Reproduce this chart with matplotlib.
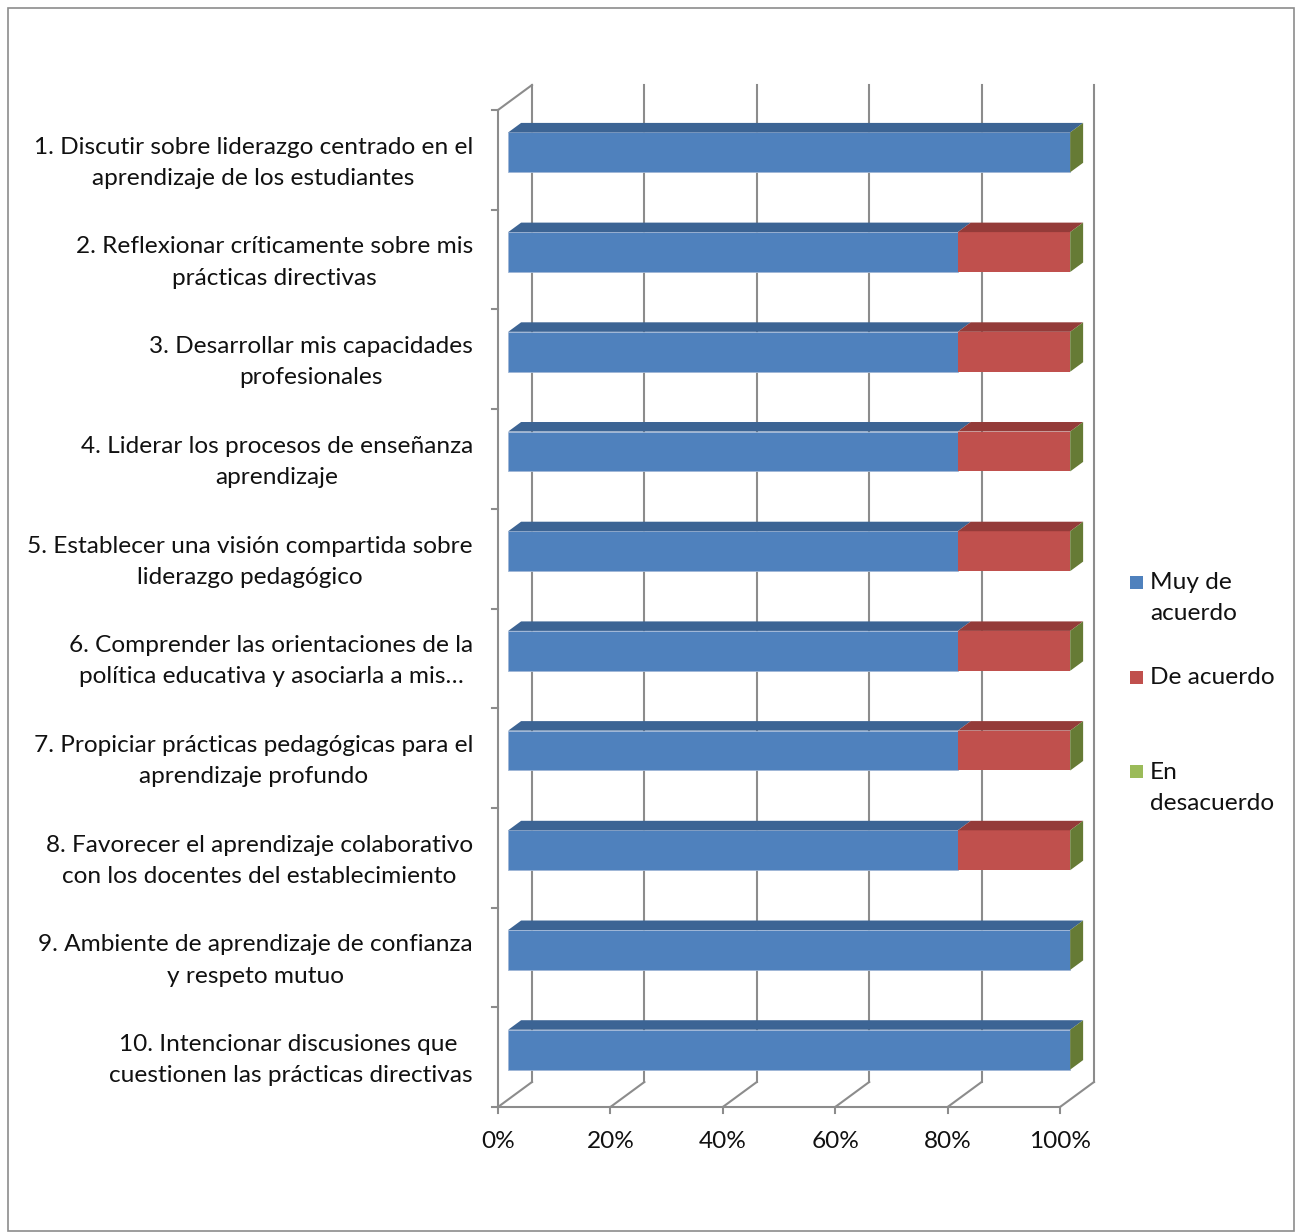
import numpy as np
import matplotlib.pyplot as plt
from matplotlib.patches import Polygon, Rectangle

plt.rcParams['font.family'] = ['Lato', 'DejaVu Sans']

# data
categories = [
    "1. Discutir sobre liderazgo centrado en el\naprendizaje de los estudiantes",
    "2. Reflexionar críticamente sobre mis\nprácticas directivas",
    "3. Desarrollar mis capacidades\nprofesionales",
    "4. Liderar los procesos de enseñanza\naprendizaje",
    "5. Establecer una visión compartida sobre\nliderazgo pedagógico",
    "6. Comprender las orientaciones de la\npolítica educativa y asociarla a mis…",
    "7. Propiciar prácticas pedagógicas para el\naprendizaje profundo",
    "8. Favorecer el aprendizaje colaborativo\ncon los docentes del establecimiento",
    "9. Ambiente de aprendizaje de confianza\ny respeto mutuo",
    "10. Intencionar discusiones que \ncuestionen las prácticas directivas",
]
muy_de_acuerdo = [100, 80, 80, 80, 80, 80, 80, 80, 100, 100]
de_acuerdo = [0, 20, 20, 20, 20, 20, 20, 20, 0, 0]
en_desacuerdo = [0, 0, 0, 0, 0, 0, 0, 0, 0, 0]
series_names = ["Muy de\nacuerdo", "De acuerdo", "En\ndesacuerdo"]
xticks = [0, 20, 40, 60, 80, 100]
xtick_labels = ["0%", "20%", "40%", "60%", "80%", "100%"]

front_cols = ['#4F81BD', '#C0504D', '#9BBB59']
top_cols = ['#3C6494', '#943B39', '#738F3F']
side_col = '#667B35'
grid_col = '#8C8C8C'
FS = 17.6

# geometry (pixel scale -> data units)
W, H = 1296, 1232
PX_X = 5.62     # px per percent
PX_Y = 99.7     # px per category
X0_PX, Y0_PX = 498, 1107
DX, DY = 34 / PX_X, 25 / PX_Y     # floor depth
T0, T1 = 0.30, 0.68               # bar depth span
BH = 0.40

fig = plt.figure(figsize=(W / 100, H / 100), dpi=100)
ax = fig.add_axes([0, 0, 1, 1])
ax.set_xlim(-X0_PX / PX_X, (W - X0_PX) / PX_X)
ax.set_ylim(-(H - Y0_PX) / PX_Y, Y0_PX / PX_Y)
ax.axis('off')

n = len(categories)
ncat = np.arange(n)
yc = n - ncat - 0.5   # front-plane centres, first category on top

# walls / floor
glw = 1.5
for t in xticks:
    ax.plot([t + DX, t + DX], [DY, n + DY], color=grid_col, lw=glw, zorder=1)
    ax.plot([t, t + DX], [0, DY], color=grid_col, lw=glw, zorder=1)
    ax.plot([t, t], [0, -0.06], color=grid_col, lw=glw, zorder=1)
ax.plot([xticks[0], xticks[-1]], [0, 0], color=grid_col, lw=glw, zorder=1)
ax.plot([0, 0], [0, n], color=grid_col, lw=glw, zorder=1)
ax.plot([0, DX], [n, n + DY], color=grid_col, lw=glw, zorder=1)
for k in range(n + 1):
    ax.plot([-6 / PX_X, 0], [k, k], color=grid_col, lw=glw, zorder=1)

# bars
ox, oy = T0 * DX, T0 * DY
ddx, ddy = (T1 - T0) * DX, (T1 - T0) * DY
vals = np.array([muy_de_acuerdo, de_acuerdo, en_desacuerdo], dtype=float)
lefts = np.vstack([np.zeros(n), np.cumsum(vals, axis=0)[:-1]])
for s in range(3):
    ax.barh(yc + oy, vals[s], left=lefts[s] + ox, height=BH,
            color=front_cols[s], edgecolor='#9FB6D6' if s == 0 else 'none',
            linewidth=0.6, zorder=3)
    for i in range(n):
        a, b = lefts[s][i], lefts[s][i] + vals[s][i]
        if b - a <= 0:
            continue
        yt = yc[i] + oy + BH / 2
        ax.add_patch(Polygon([(a + ox, yt), (b + ox, yt),
                              (b + ox + ddx, yt + ddy), (a + ox + ddx, yt + ddy)],
                             closed=True, facecolor=top_cols[s], edgecolor='none',
                             zorder=3))
totals = vals.sum(axis=0)
for i in range(n):
    e = totals[i] + ox
    yb, yt = yc[i] + oy - BH / 2, yc[i] + oy + BH / 2
    ax.add_patch(Polygon([(e, yb), (e, yt), (e + ddx, yt + ddy), (e + ddx, yb + ddy)],
                         closed=True, facecolor=side_col, edgecolor='none', zorder=4))

# category labels
for i in range(n):
    ax.text(-25 / PX_X, yc[i] - 0.03, categories[i], ha='right', va='center',
            multialignment='center', fontsize=FS, linespacing=1.6, color='#111111')

# x tick labels
for t, lab in zip(xticks, xtick_labels):
    ax.text(t, -34 / PX_Y, lab, ha='center', va='center', fontsize=FS, color='#111111')

# legend
sq_y = [582, 677, 771]
txt_y = [598, 677, 788]
for s in range(3):
    fig.patches.append(Rectangle((1130 / W, 1 - (sq_y[s] + 7) / H), 13 / W, 13 / H,
                                 transform=fig.transFigure, facecolor=front_cols[s],
                                 edgecolor='none'))
    fig.text(1150 / W, 1 - txt_y[s] / H, series_names[s], ha='left', va='center',
             fontsize=FS, linespacing=1.6, color='#111111')

# chart border
fig.patches.append(Rectangle((8 / W, 1 / H), (W - 10) / W, (H - 9) / H,
                             transform=fig.transFigure, facecolor='none',
                             edgecolor='#8C8C8C', lw=1.2))

fig.savefig('out.png', dpi=100)
